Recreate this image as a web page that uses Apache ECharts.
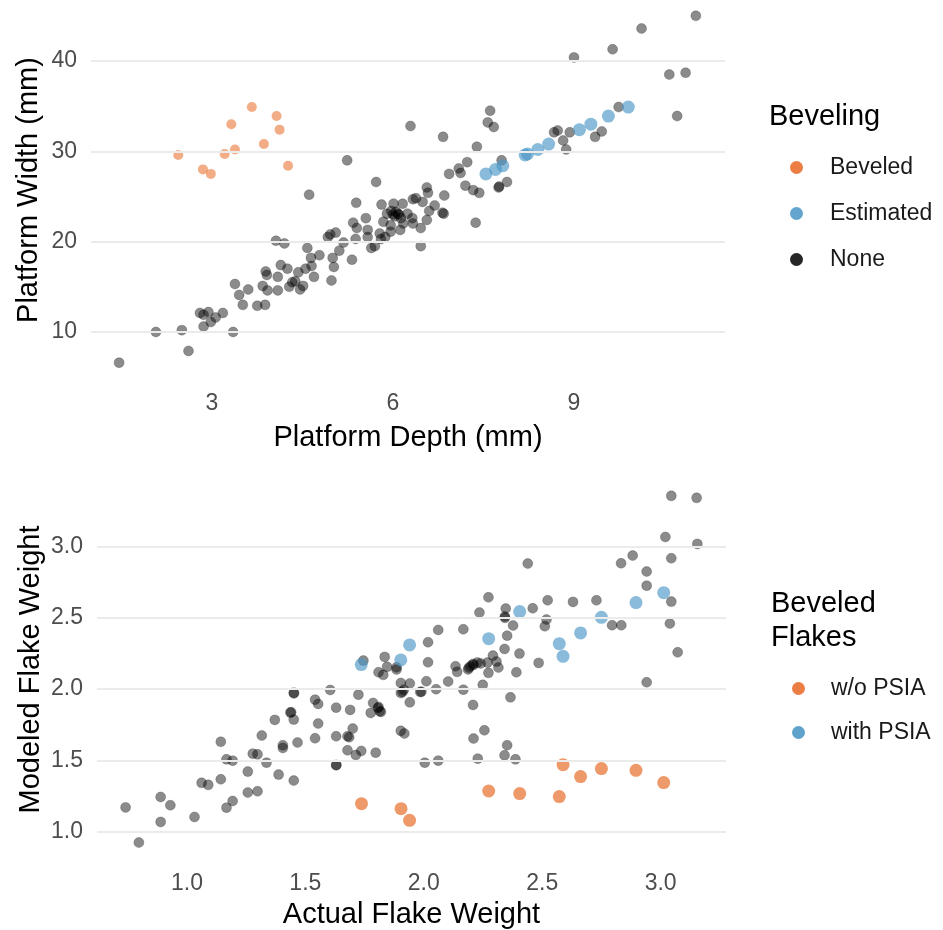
<!DOCTYPE html>
<html>
<head>
<meta charset="utf-8">
<script src="https://cdn.jsdelivr.net/npm/echarts@6/dist/echarts.min.js"></script>
<style>
html,body{margin:0;padding:0;background:#fff;}
#chart{width:943px;height:930px;}
</style>
</head>
<body>
<div id="chart"></div>
<script>
// ---------- Top panel: platform dimensions ----------
const topXTicks = [3, 6, 9];
const topYTicks = [10, 20, 30, 40];
const beveledDepth = [2.44,2.85,2.98,3.21,3.38,3.32,3.66,3.86,4.07,4.12,4.26];
const beveledWidth = [29.6,28.0,27.5,29.7,30.2,33.0,34.9,30.8,33.9,32.4,28.4];
const estimatedDepth = [7.54,7.70,7.82,8.19,8.23,8.40,8.58,9.09,9.28,9.57,9.90];
const estimatedWidth = [27.5,28.0,28.4,29.6,29.7,30.2,30.8,32.4,33.0,33.9,34.9];
const noneDepth = [1.46,2.07,2.50,2.61,3.35,2.86,2.80,2.94,2.86,2.98,3.06,3.18,3.38,3.45,3.60,3.51,3.75,3.88,3.84,3.89,
  3.91,3.92,4.09,4.09,4.14,4.25,4.28,4.33,4.38,4.46,4.51,4.43,4.55,4.65,4.69,4.58,4.64,4.78,4.06,4.20,
  4.61,5.24,6.29,5.72,4.98,5.00,5.02,5.11,5.18,4.92,4.96,5.05,5.32,5.34,5.40,5.38,5.58,5.58,5.55,5.64,
  5.70,5.80,5.87,5.39,5.81,5.90,6.01,6.08,6.16,5.96,5.96,6.12,6.13,6.05,6.24,6.32,6.33,6.33,6.38,6.49,
  6.46,6.46,6.56,6.58,6.56,6.60,6.00,6.03,5.97,6.10,6.17,5.84,5.78,6.83,7.39,7.61,7.57,7.67,7.23,7.09,
  7.12,6.93,7.20,7.33,7.43,6.85,6.69,6.84,6.82,7.37,7.80,7.76,7.75,7.89,8.67,8.73,8.82,8.87,8.93,9.00,
  9.35,9.46,9.64,9.74,10.12,10.58,10.85,10.71,11.02];
const noneWidth = [6.6,10.0,10.2,7.9,10.0,10.6,12.1,12.2,11.9,11.1,11.6,12.1,15.3,14.1,14.7,13.0,12.9,13.0,15.1,16.7,
  16.3,14.6,14.6,16.1,17.4,17.0,15.0,15.5,15.6,14.7,15.1,16.6,17.0,17.3,16.1,19.3,18.2,18.5,20.1,19.8,
  25.2,29.0,32.8,26.6,15.7,18.2,17.2,19.0,19.9,20.5,20.8,21.0,18.0,22.1,21.5,20.3,20.5,21.3,22.6,19.3,
  19.5,20.3,20.5,24.3,24.1,23.1,24.2,23.1,24.2,21.8,21.1,21.3,22.6,23.3,23.1,22.6,22.0,24.7,24.8,24.4,
  21.5,19.5,26.0,25.4,22.4,23.4,23.0,22.8,23.4,23.0,22.0,22.2,20.9,31.6,30.5,34.5,33.2,32.7,28.8,28.1,
  27.6,27.5,26.2,25.7,25.4,25.1,24.0,23.1,23.2,22.1,29.0,26.1,26.0,26.6,32.1,32.3,31.2,30.2,32.1,40.4,
  31.6,32.2,41.3,34.9,43.6,38.5,38.7,33.9,45.0];

// ---------- Bottom panel: flake weights ----------
const botXTicks = [1.0, 1.5, 2.0, 2.5, 3.0];
const botYTicks = [1.0, 1.5, 2.0, 2.5, 3.0];
const woActual = [1.737,1.904,1.940,2.274,2.405,2.572,2.588,2.662,2.750,2.896,3.013];
const woModeled = [1.196,1.161,1.079,1.285,1.267,1.246,1.470,1.386,1.442,1.430,1.344];
const withActual = [1.736,1.903,1.940,2.274,2.405,2.572,2.588,2.662,2.750,2.896,3.013];
const withModeled = [2.172,2.205,2.310,2.354,2.544,2.319,2.230,2.394,2.504,2.607,2.677];
const otherActual = [0.741,0.797,0.889,0.889,0.930,1.032,1.062,1.090,1.143,1.143,1.167,1.193,1.167,1.193,1.257,1.257,1.298,1.278,1.298,1.316,
  1.336,1.371,1.387,1.405,1.405,1.451,1.467,1.451,1.437,1.440,1.451,1.452,1.541,1.554,1.554,1.541,1.605,1.630,1.630,1.630,
  1.631,1.678,1.685,1.700,1.689,1.678,1.713,1.736,1.797,1.724,1.745,1.776,1.786,1.809,1.819,1.809,1.829,1.835,1.845,1.885,
  1.885,1.903,1.903,1.916,1.941,1.941,1.990,1.903,1.918,2.004,2.018,2.018,2.011,2.061,2.061,2.052,2.103,2.134,2.141,2.167,
  2.167,2.187,2.197,2.208,2.226,2.208,2.210,2.228,2.256,2.249,2.235,2.269,2.273,2.273,2.292,2.307,2.315,2.341,2.352,2.346,
  2.342,2.343,2.377,2.391,2.366,2.352,2.341,2.387,2.404,2.439,2.460,2.485,2.511,2.518,2.523,2.630,2.729,2.795,2.834,2.833,
  2.882,2.941,2.941,2.941,3.020,3.045,3.045,3.039,3.072,3.045,3.152,3.155,2.210,2.240,2.190,1.910,1.985,1.807,1.814];
const otherModeled = [1.170,0.923,1.243,1.068,1.185,1.103,1.342,1.328,1.367,1.630,1.507,1.498,1.168,1.215,1.421,1.274,1.283,1.547,1.542,1.674,
  1.484,1.784,1.400,1.606,1.587,1.358,1.625,1.786,1.835,1.838,1.975,1.970,1.926,1.896,1.758,1.655,1.994,1.870,1.669,1.465,
  1.468,1.669,1.662,1.723,1.854,1.571,1.538,1.566,1.554,1.961,2.200,1.833,1.903,1.875,1.840,2.118,2.100,2.226,2.156,2.153,
  2.137,2.043,1.973,1.996,2.039,1.907,1.982,1.707,1.688,1.484,2.329,2.188,2.055,1.498,2.415,1.999,2.053,2.160,2.121,1.996,
  2.420,2.137,2.160,2.177,2.186,1.889,1.653,1.512,1.711,2.030,2.537,2.186,2.114,2.644,2.235,2.193,2.151,2.282,2.375,2.565,
  2.509,2.500,2.446,2.118,1.942,1.606,1.535,1.507,2.249,2.881,2.567,2.184,2.441,2.488,2.623,2.612,2.623,2.448,2.448,2.883,
  2.937,2.825,2.726,2.048,3.068,2.918,2.614,2.460,2.258,3.356,3.342,3.019,2.170,2.180,2.150,1.980,1.980,1.868,1.844];

const zip = (a, b) => a.map((v, i) => [v, b[i]]);

const FONT = '"Liberation Sans", Arial, sans-serif';
const ORANGE = '#E8712F';
const BLUE = '#4C96C6';
const GRID = '#ebebeb';

function gridSeries(xi, yi, ticks) {
  return {
    type: 'scatter', xAxisIndex: xi, yAxisIndex: yi, data: [], z: 0, silent: true,
    markLine: {
      silent: true, symbol: 'none', animation: false,
      label: {show: false},
      lineStyle: {color: GRID, width: 2, type: 'solid'},
      data: ticks.map(v => ({yAxis: v}))
    }
  };
}

const tickLabel = {color: '#4d4d4d', fontSize: 23, fontFamily: FONT};
const titleText = {color: '#000', fontSize: 29, fontFamily: FONT};

const option = {
  animation: false,
  backgroundColor: '#fff',
  grid: [
    {left: 91, top: 0, width: 634, height: 380},
    {left: 97, top: 479, width: 629, height: 381}
  ],
  xAxis: [
    {gridIndex: 0, type: 'value', min: 0.994, max: 11.503,
     axisLine: {show: false}, axisTick: {show: false}, splitLine: {show: false},
     axisLabel: Object.assign({customValues: topXTicks, margin: 12}, tickLabel),
     name: 'Platform Depth (mm)', nameLocation: 'middle', nameGap: 43, nameMoveOverlap: false, nameTextStyle: titleText},
    {gridIndex: 1, type: 'value', min: 0.6203, max: 3.276,
     axisLine: {show: false}, axisTick: {show: false}, splitLine: {show: false},
     axisLabel: Object.assign({customValues: botXTicks, margin: 12,
       formatter: v => v.toFixed(1)}, tickLabel),
     name: 'Actual Flake Weight', nameLocation: 'middle', nameGap: 40, nameMoveOverlap: false, nameTextStyle: titleText}
  ],
  yAxis: [
    {gridIndex: 0, type: 'value', min: 4.68, max: 46.753,
     axisLine: {show: false}, axisTick: {show: false}, splitLine: {show: false},
     axisLabel: Object.assign({customValues: topYTicks, margin: 14}, tickLabel),
     name: 'Platform Width (mm)', nameLocation: 'middle', nameGap: 48, nameMoveOverlap: false, nameTextStyle: titleText},
    {gridIndex: 1, type: 'value', min: 0.8007, max: 3.4744,
     axisLine: {show: false}, axisTick: {show: false}, splitLine: {show: false},
     axisLabel: Object.assign({customValues: botYTicks, margin: 14,
       formatter: v => v.toFixed(1)}, tickLabel),
     name: 'Modeled Flake Weight', nameLocation: 'middle', nameGap: 52, nameMoveOverlap: false, nameTextStyle: titleText}
  ],
  legend: [
    {orient: 'vertical', left: 785, top: 151, itemGap: 23, itemWidth: 13, itemHeight: 13,
     icon: 'circle', textStyle: {fontSize: 23, fontFamily: FONT, color: '#1a1a1a', padding: [0,0,0,22]},
     selectedMode: false,
     data: [
       {name: 'Beveled', itemStyle: {color: '#EB7D45', borderWidth: 0, opacity: 1}},
       {name: 'Estimated', itemStyle: {color: '#63A5CE', borderWidth: 0, opacity: 1}},
       {name: 'None', itemStyle: {color: '#262626', borderWidth: 0, opacity: 1}}
     ]},
    {orient: 'vertical', left: 787, top: 672, itemGap: 21, itemWidth: 13, itemHeight: 13,
     icon: 'circle', textStyle: {fontSize: 23, fontFamily: FONT, color: '#1a1a1a', padding: [0,0,0,21]},
     selectedMode: false,
     data: [
       {name: 'w/o PSIA', itemStyle: {color: '#EB7D45', borderWidth: 0, opacity: 1}},
       {name: 'with PSIA', itemStyle: {color: '#5FA3CC', borderWidth: 0, opacity: 1}}
     ]}
  ],
  graphic: [
    {type: 'text', left: 769, top: 102,
     style: {text: 'Beveling', fontSize: 29, fontFamily: FONT, fill: '#000'}},
    {type: 'text', left: 771, top: 587,
     style: {text: 'Beveled\nFlakes', fontSize: 29, lineHeight: 34, fontFamily: FONT, fill: '#000'}}
  ],
  series: [
    gridSeries(0, 0, topYTicks),
    gridSeries(1, 1, botYTicks),
    {name: 'None', type: 'scatter', xAxisIndex: 0, yAxisIndex: 0, z: 2,
     symbolSize: 10, data: zip(noneDepth, noneWidth),
     itemStyle: {color: 'rgba(0,0,0,0.57)', borderColor: 'rgba(0,0,0,0.25)', borderWidth: 1}},
    {name: 'Beveled', type: 'scatter', xAxisIndex: 0, yAxisIndex: 0, z: 3,
     symbolSize: 10, data: zip(beveledDepth, beveledWidth),
     itemStyle: {color: ORANGE, opacity: 0.58}},
    {name: 'Estimated', type: 'scatter', xAxisIndex: 0, yAxisIndex: 0, z: 3,
     symbolSize: 13, data: zip(estimatedDepth, estimatedWidth),
     itemStyle: {color: BLUE, opacity: 0.65}},
    {name: 'other', type: 'scatter', xAxisIndex: 1, yAxisIndex: 1, z: 2,
     symbolSize: 10, data: zip(otherActual, otherModeled),
     itemStyle: {color: 'rgba(0,0,0,0.57)', borderColor: 'rgba(0,0,0,0.25)', borderWidth: 1}},
    {name: 'w/o PSIA', type: 'scatter', xAxisIndex: 1, yAxisIndex: 1, z: 3,
     symbolSize: 13, data: zip(woActual, woModeled),
     itemStyle: {color: ORANGE, opacity: 0.72}},
    {name: 'with PSIA', type: 'scatter', xAxisIndex: 1, yAxisIndex: 1, z: 3,
     symbolSize: 13, data: zip(withActual, withModeled),
     itemStyle: {color: BLUE, opacity: 0.65}}
  ]
};

const chart = echarts.init(document.getElementById('chart'), null, {renderer: 'canvas'});
chart.setOption(option);
</script>
</body>
</html>
